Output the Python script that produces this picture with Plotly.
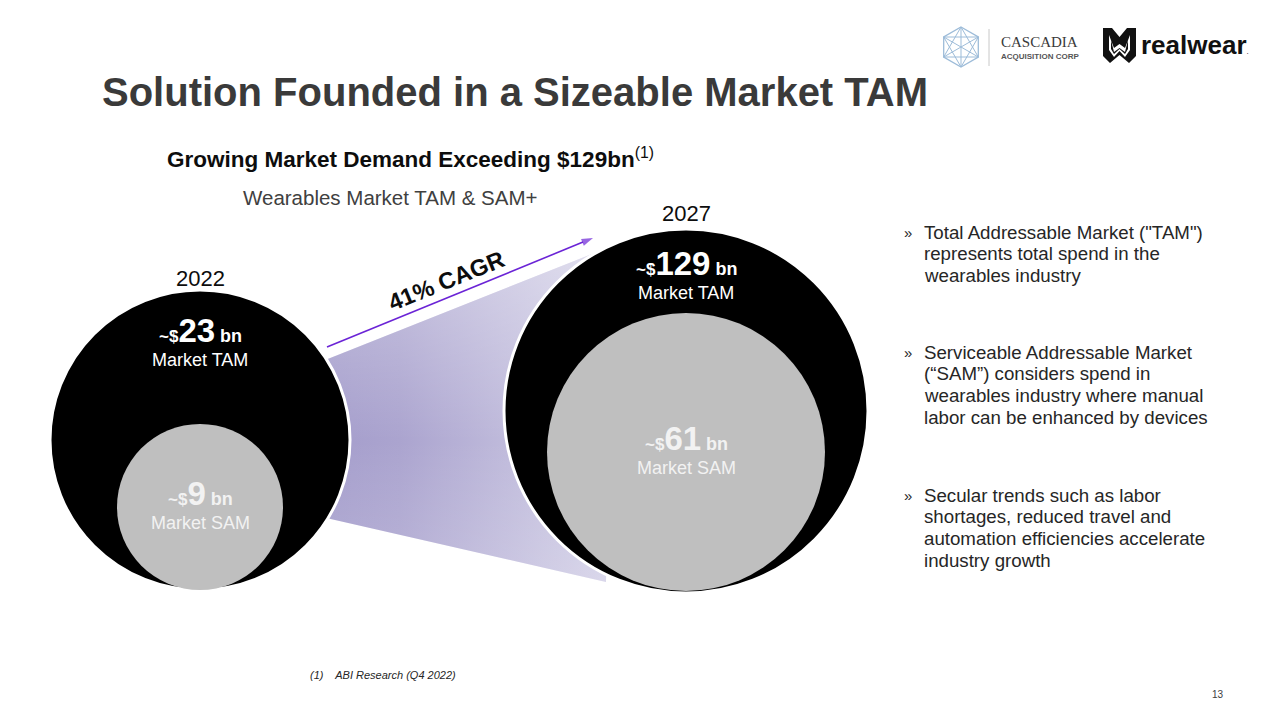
import math
import plotly.graph_objects as go

# ---------------- data ----------------
years = ["2022", "2027"]
tam_bn = [23, 129]
sam_bn = [9, 61]
cagr_pct = [41]
title = "Solution Founded in a Sizeable Market TAM"
subtitle = "Growing Market Demand Exceeding $129bn"
chart_label = "Wearables Market TAM & SAM+"
bullets = [
    ['Total Addressable Market ("TAM")', "represents total spend in the", "wearables industry"],
    ["Serviceable Addressable Market", "(\u201cSAM\u201d) considers spend in",
     "wearables industry where manual", "labor can be enhanced by devices"],
    ["Secular trends such as labor", "shortages, reduced travel and",
     "automation efficiencies accelerate", "industry growth"],
]
footnote = "(1)    ABI Research (Q4 2022)"
page_no = "13"

# ---------------- layout constants (pixels) ----------------
W, H = 1280, 720
FONT = "Liberation Sans, Arial, sans-serif"
tam_cx = [200, 686]
tam_cy = [440, 411]
tam_r = [150, 182]
sam_cx = [200, 686]
sam_cy = [507, 452]
sam_r = [83, 139]
year_y = [278, 213]
tam_lbl_y = [330, 263]
sam_lbl_y = [493, 438]

# connector polygon (top-left, top-right, bottom-right, bottom-left)
conn_x = [300, 612, 606, 300]
conn_y = [370, 246, 582, 512]
# growth arrow (start, end)
arrow_x = [327, 593]
arrow_y = [347, 238]

fig = go.Figure()

# gradient connector between the two years
fig.add_trace(go.Scatter(
    x=conn_x, y=conn_y, mode="none", fill="toself", hoverinfo="skip", showlegend=False,
    fillgradient=dict(type="horizontal", start=330, stop=610,
                      colorscale=[[0, "#a59ecc"], [0.25, "#aba4cf"], [1, "#d3d0e7"]]),
))
fig.add_trace(go.Scatter(
    x=conn_x, y=conn_y, mode="none", fill="toself", hoverinfo="skip", showlegend=False,
    fillgradient=dict(type="vertical", start=250, stop=590,
                      colorscale=[[0, "rgba(255,255,255,0.35)"], [0.56, "rgba(255,255,255,0)"],
                                  [1, "rgba(255,255,255,0.18)"]]),
))
# CAGR arrow
fig.add_trace(go.Scatter(
    x=arrow_x, y=arrow_y, mode="lines+markers", hoverinfo="skip", showlegend=False,
    line=dict(color="#6b24d6", width=1.6),
    marker=dict(symbol="arrow", angleref="previous", size=[0, 12], color="#6b24d6",
                line=dict(width=0)),
))

shapes = []
for i in range(len(years)):
    shapes.append(dict(type="circle", xref="x", yref="y", layer="above",
                       x0=tam_cx[i] - tam_r[i], x1=tam_cx[i] + tam_r[i],
                       y0=tam_cy[i] - tam_r[i], y1=tam_cy[i] + tam_r[i],
                       fillcolor="#000000", line=dict(color="#ffffff", width=3)))
    shapes.append(dict(type="circle", xref="x", yref="y", layer="above",
                       x0=sam_cx[i] - sam_r[i], x1=sam_cx[i] + sam_r[i],
                       y0=sam_cy[i] - sam_r[i], y1=sam_cy[i] + sam_r[i],
                       fillcolor="#bfbfbf", line=dict(width=0)))

# ---- logos (decorative) ----
lb = "#9dbcd9"
hx, hy, hr = 961, 47, 20
pts = [(hx + hr * math.sin(math.radians(a)), hy - hr * math.cos(math.radians(a))) for a in range(0, 360, 60)]
path = "M " + " L ".join(f"{x:.1f},{y:.1f}" for x, y in pts) + " Z"
shapes.append(dict(type="path", path=path, xref="x", yref="y", line=dict(color=lb, width=1.3), layer="above"))
for tri in ([pts[0], pts[2], pts[4]], [pts[1], pts[3], pts[5]]):
    p = "M " + " L ".join(f"{x:.1f},{y:.1f}" for x, y in tri) + " Z"
    shapes.append(dict(type="path", path=p, xref="x", yref="y", line=dict(color=lb, width=1), layer="above"))
for x, y in pts:
    shapes.append(dict(type="line", x0=hx, y0=hy, x1=x, y1=y, xref="x", yref="y",
                       line=dict(color=lb, width=1), layer="above"))
shapes.append(dict(type="line", x0=989, x1=989, y0=29, y1=66, xref="x", yref="y",
                   line=dict(color="#c8c8c8", width=1), layer="above"))
# realwear icon
shapes.append(dict(type="path", xref="x", yref="y", layer="above",
                   path="M 1103,28 L 1112,28 L 1119.5,37 L 1127,28 L 1136,28 L 1136,56 L 1129,63 "
                        "L 1119.5,55 L 1110,63 L 1103,56 Z",
                   fillcolor="#111111", line=dict(width=0)))
shapes.append(dict(type="path", xref="x", yref="y", layer="above",
                   path="M 1109,35 L 1114,48 L 1119.5,44 L 1125,48 L 1130,35 L 1130,50 L 1125,57 "
                        "L 1119.5,51 L 1114,57 L 1109,50 Z",
                   fillcolor="#ffffff", line=dict(width=0)))
shapes.append(dict(type="path", xref="x", yref="y", layer="above",
                   path="M 1111,40 L 1114,52 L 1119.5,48 L 1125,52 L 1128,40 L 1128,49 L 1125,54 "
                        "L 1119.5,49 L 1114,54 L 1111,49 Z",
                   fillcolor="#111111", line=dict(width=0)))

ann = []


def text(x, y, t, size, color="#000000", xanchor="center", yanchor="middle", family=FONT, **kw):
    ann.append(dict(x=x, y=y, xref="x", yref="y", text=t, showarrow=False,
                    xanchor=xanchor, yanchor=yanchor,
                    font=dict(family=family, size=size, color=color), **kw))


# title & headings
text(100, 92, f"<b>{title}</b>", 40, "#3a3a3a", xanchor="left")
text(165, 158, f"<b>{subtitle}</b><sup>(1)</sup>", 22.5, "#0d0d0d", xanchor="left")
text(390, 197, chart_label, 20.5, "#404040")

# circle labels
for i in range(len(years)):
    text(tam_cx[i], year_y[i], years[i], 22, "#0d0d0d")
    text(tam_cx[i], tam_lbl_y[i],
         f"<b><span style='font-size:17px'>~$</span>{tam_bn[i]}<span style='font-size:18px'> bn</span></b>",
         33, "#ffffff")
    text(tam_cx[i], tam_lbl_y[i] + 30, "Market TAM", 18, "#ffffff")
    text(sam_cx[i], sam_lbl_y[i],
         f"<b><span style='font-size:17px'>~$</span>{sam_bn[i]}<span style='font-size:18px'> bn</span></b>",
         33, "#f2f2f2")
    text(sam_cx[i], sam_lbl_y[i] + 30, "Market SAM", 18, "#f2f2f2")

text(446, 281, f"<b>{cagr_pct[0]}% CAGR</b>", 23.5, "#0d0d0d", textangle=-22)

# bullets
line_h = 21.8
starts = [232, 352, 495]
for b, y0 in zip(bullets, starts):
    text(902, y0, "\u00bb", 15, "#262626", xanchor="left")
    for k, line in enumerate(b):
        text(922, y0 + k * line_h, line, 18.7, "#262626", xanchor="left")

# footnote & page number
text(308, 675, f"<i>{footnote}</i>", 11, "#262626", xanchor="left")
text(1218, 694, page_no, 10, "#404040")

# logo texts
text(999, 42, "CASCADIA", 15, "#3a3a3a", xanchor="left", family="Liberation Serif, serif")
text(999, 56, "<b>ACQUISITION CORP</b>", 8, "#555555", xanchor="left")
text(1139, 45, "<b>realwear</b><span style='font-size:8px'>.</span>", 26, "#111111", xanchor="left")

fig.update_layout(
    width=W, height=H, margin=dict(l=0, r=0, t=0, b=0),
    paper_bgcolor="#ffffff", plot_bgcolor="#ffffff",
    xaxis=dict(range=[0, W], visible=False, fixedrange=True),
    yaxis=dict(range=[H, 0], visible=False, fixedrange=True),
    shapes=shapes, annotations=ann, showlegend=False,
)
fig.write_html("out.html", config={"displayModeBar": False},
               post_script="document.body.style.margin='0';")
